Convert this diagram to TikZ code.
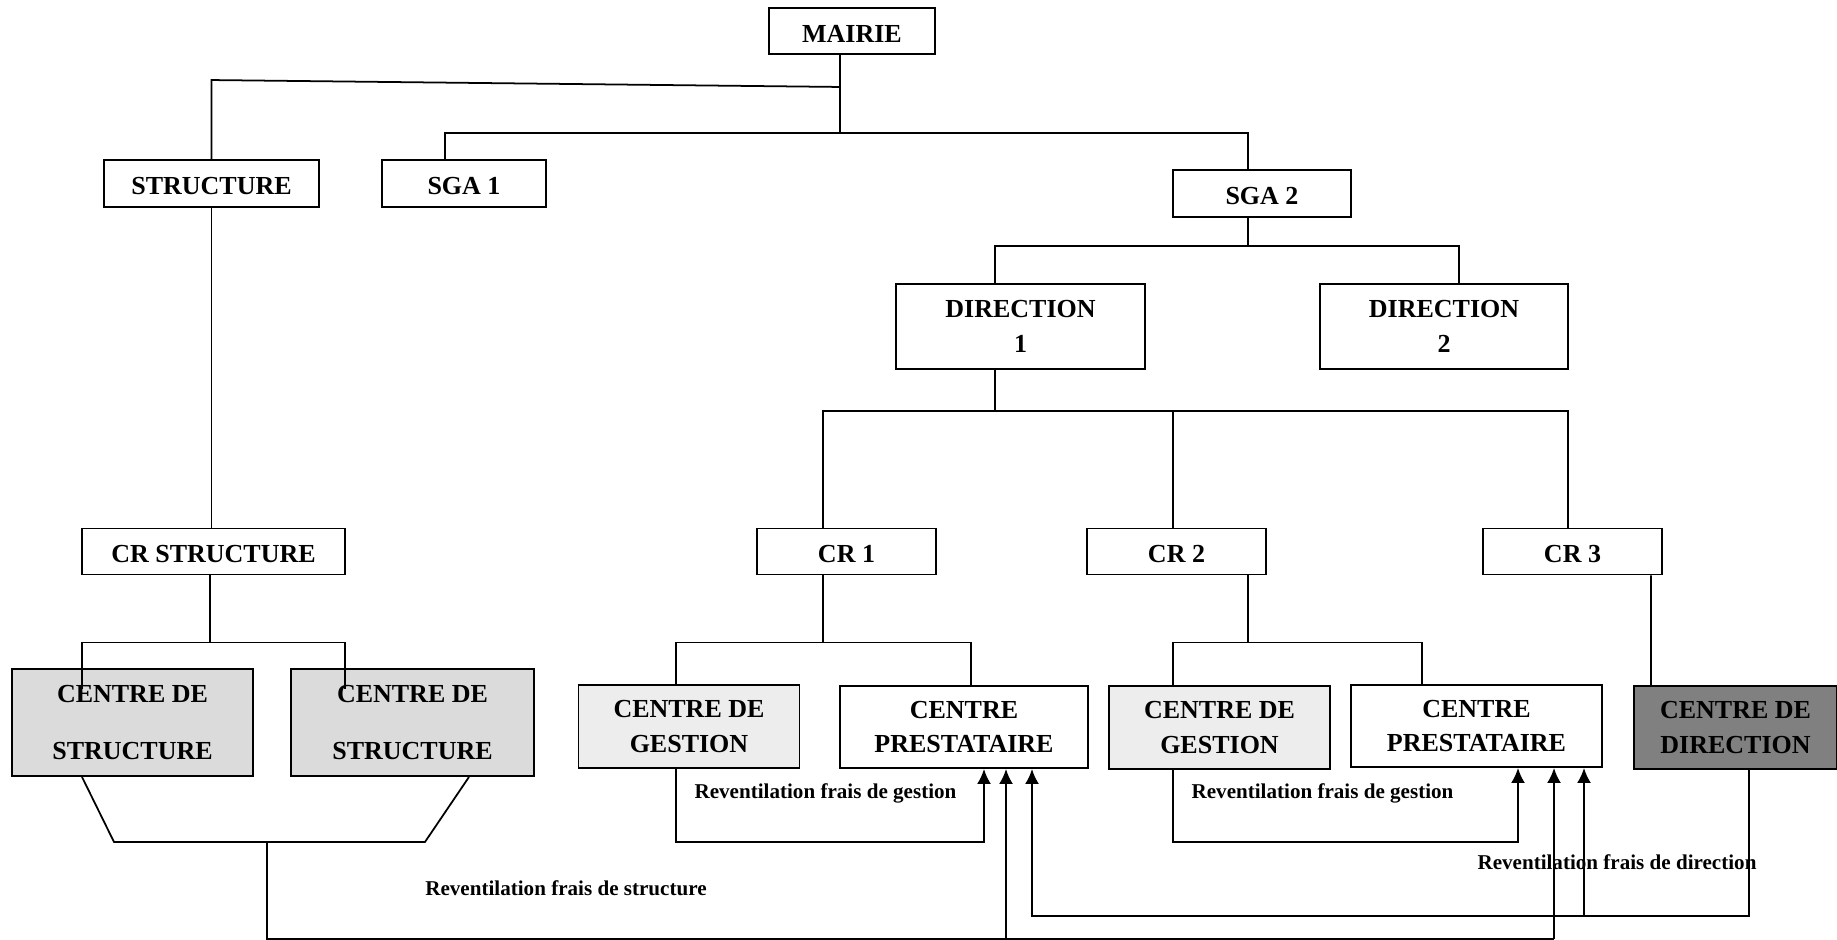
\documentclass[tikz,border=0pt]{standalone}
\usepackage{fontspec}
\setmainfont{Liberation Serif}
\usepackage{tikz}
\usetikzlibrary{calc,arrows.meta}
\tikzset{>={Latex[length=3mm,width=2.8mm]}}
\tikzset{
  box/.style={draw, line width=1.1pt, inner sep=0pt, text height=12.7pt, text depth=0pt,
    font=\fontsize{14.8}{19.8}\selectfont\bfseries},
  boxdeux/.style={draw, line width=1.1pt, inner sep=0pt, align=center,
    font=\fontsize{14.8}{19.8}\selectfont\bfseries},
  boxhaut/.style={boxdeux, font=\fontsize{14.8}{32.3}\selectfont\bfseries},
  lien/.style={line width=1pt},
  flux/.style={->, line width=1.15pt},
  legende/.style={anchor=base, inner sep=0pt, font=\fontsize{12}{14}\selectfont\bfseries}
}
\definecolor{grisclair}{gray}{0.93}
\definecolor{grismoyen}{gray}{0.86}
\definecolor{grisfonce}{gray}{0.5}

\begin{document}
\begin{tikzpicture}[x=0.02cm, y=-0.02cm]
\useasboundingbox (0,0) rectangle (1837,940);

% haut de l'organigramme
\node[box, minimum width=3.32cm, minimum height=0.92cm] (mairie) at (852,31) {MAIRIE};
\node[box, minimum width=4.3cm, minimum height=0.94cm] (structure) at (211.5,183.5) {STRUCTURE};
\node[box, minimum width=3.28cm, minimum height=0.94cm] (sga1) at (464,183.5) {SGA 1};
\node[box, minimum width=3.56cm, minimum height=0.94cm] (sga2) at (1262,193.5) {SGA 2};
\node[boxdeux, minimum width=4.98cm, minimum height=1.7cm] (dir1) at (1020.5,326.5) {DIRECTION\\1};
\node[boxdeux, minimum width=4.96cm, minimum height=1.7cm] (dir2) at (1444,326.5) {DIRECTION\\2};

% centres de responsabilite
\node[box, minimum width=5.26cm, minimum height=0.92cm] (crstruct) at (213.5,551.5) {CR STRUCTURE};
\node[box, minimum width=3.58cm, minimum height=0.92cm] (cr1) at (846.5,551.5) {CR 1};
\node[box, minimum width=3.58cm, minimum height=0.92cm] (cr2) at (1176.5,551.5) {CR 2};
\node[box, minimum width=3.58cm, minimum height=0.92cm] (cr3) at (1572.5,551.5) {CR 3};

% centres d'analyse
\node[boxhaut, fill=grismoyen, minimum width=4.82cm, minimum height=2.14cm] (cs1) at (132.5,722.5) {CENTRE DE\\STRUCTURE};
\node[boxhaut, fill=grismoyen, minimum width=4.86cm, minimum height=2.14cm] (cs2) at (412.5,722.5) {CENTRE DE\\STRUCTURE};
\node[boxdeux, fill=grisclair, minimum width=4.42cm, minimum height=1.66cm] (cg1) at (689,726.5) {CENTRE DE\\GESTION};
\node[boxdeux, minimum width=4.96cm, minimum height=1.64cm] (cp1) at (964,727) {CENTRE\\PRESTATAIRE};
\node[boxdeux, fill=grisclair, minimum width=4.42cm, minimum height=1.66cm] (cg2) at (1219.5,727.5) {CENTRE DE\\GESTION};
\node[boxdeux, minimum width=5.02cm, minimum height=1.64cm] (cp2) at (1476.5,726) {CENTRE\\PRESTATAIRE};
\node[boxdeux, fill=grisfonce, minimum width=4.06cm, minimum height=1.66cm] (cd) at (1735.5,727.5) {CENTRE DE\\DIRECTION};

% legendes
\node[legende] (lg1) at (825.5,798) {Reventilation frais de gestion};
\node[legende] (lg2) at (1322.5,798) {Reventilation frais de gestion};
\node[legende] (ls) at (566,895) {Reventilation frais de structure};
\node[legende] (ld) at (1617,869) {Reventilation frais de direction};

% liens hierarchiques
\coordinate (b1) at ($(mairie.south)+(-12,32)$);
\coordinate (b2) at ($(mairie.south)+(-12,78)$);
\draw[lien] ($(mairie.south)+(-12,0)$) -- (b2);
\draw[lien] (b1) -- ($(structure.north)+(0,-79)$) -- (structure.north);
\draw[lien] ($(sga1.north)+(-19,0)$) |- (b2) -| ($(sga2.north)+(-14,0)$);

\coordinate (b3) at ($(sga2.south)+(-14,28)$);
\draw[lien] ($(sga2.south)+(-14,0)$) -- (b3);
\draw[lien] ($(dir1.north)+(-25.5,0)$) |- (b3) -| ($(dir2.north)+(15,0)$);

\coordinate (b4) at ($(dir1.south)+(-25.5,41)$);
\draw[lien] ($(dir1.south)+(-25.5,0)$) -- (b4);
\draw[lien] ($(cr1.north)+(-23.5,0)$) |- (b4) -| ($(cr3.north)+(-4.5,0)$);
\draw[lien] ($(cr2.north)+(-3.5,0)$) -- ++(0,-118);

\draw[lien] (structure.south) -- (structure.south |- crstruct.north);
\coordinate (b5) at ($(crstruct.south)+(-3.5,67)$);
\draw[lien] ($(crstruct.south)+(-3.5,0)$) -- (b5);
\draw[lien] ($(cs1.north)+(-50.5,21)$) |- (b5) -| ($(cs2.north)+(-67.5,21)$);

\coordinate (b6) at ($(cr1.south)+(-23.5,67)$);
\draw[lien] ($(cr1.south)+(-23.5,0)$) -- (b6);
\draw[lien] ($(cg1.north)+(-13,0)$) |- (b6) -| ($(cp1.north)+(7,0)$);

\coordinate (b7) at ($(cr2.south)+(71.5,67)$);
\draw[lien] ($(cr2.south)+(71.5,0)$) -- (b7);
\draw[lien] ($(cg2.north)+(-46.5,0)$) |- (b7) -| ($(cp2.north)+(-54.5,0)$);

\draw[lien] ($(cr3.south)+(78.5,0)$) -- ($(cd.north)+(-84.5,0)$);

% reventilations
\coordinate (gp1) at ($(cp1.south)+(20,0)$);
\coordinate (fp1) at ($(cp1.south)+(42,0)$);
\coordinate (dp1) at ($(cp1.south)+(68,0)$);
\coordinate (gp2) at ($(cp2.south)+(41.5,0)$);
\coordinate (fp2) at ($(cp2.south)+(77.5,0)$);
\coordinate (dp2) at ($(cp2.south)+(107.5,0)$);

\draw[flux] ($(cg1.south)+(-13,0)$) -- ++(0,73) -| (gp1);
\draw[flux] ($(cg2.south)+(-46.5,0)$) -- ++(0,72) -| (gp2);

\draw[lien] ($(cs1.south)+(-50.5,0)$) -- ++(32,65) -- coordinate[pos=0.492] (s0) ++(311,0) -- ($(cs2.south)+(56.5,0)$);
\coordinate (s1) at ($(s0)+(0,97)$);
\draw[lien] (s0) -- (s1) -- (fp2 |- s1);
\draw[flux] (fp1 |- s1) -- (fp1);
\draw[flux] (fp2 |- s1) -- (fp2);

\coordinate (d0) at ($(cd.south)+(13.5,0)$);
\coordinate (d1) at ($(d0)+(0,146)$);
\draw[flux] (d0) -- (d1) -| (dp1);
\draw[flux] (dp2 |- d1) -- (dp2);

\end{tikzpicture}
\end{document}
